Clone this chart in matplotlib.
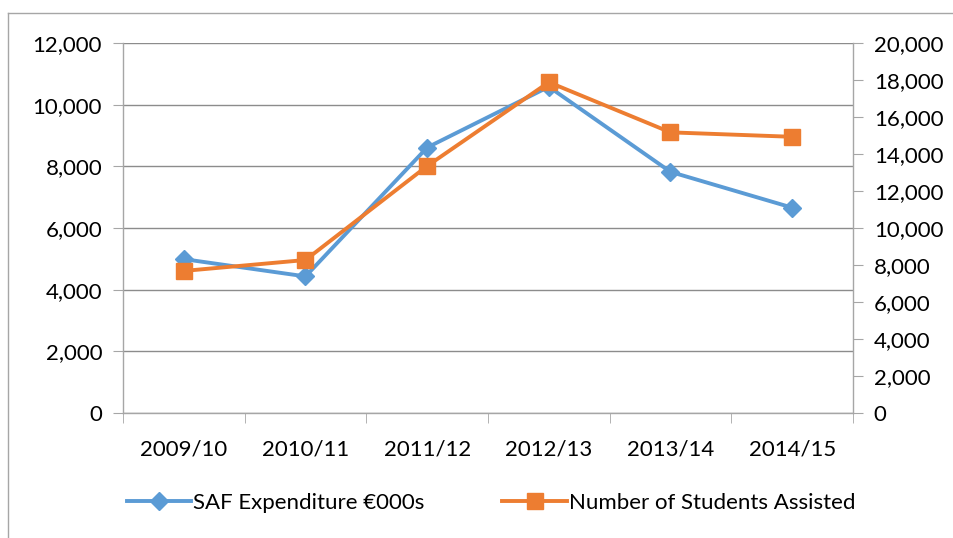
import matplotlib
matplotlib.use("Agg")
import matplotlib.pyplot as plt
from matplotlib.lines import Line2D
from matplotlib.ticker import FuncFormatter

# data
years = ["2009/10", "2010/11", "2011/12", "2012/13", "2013/14", "2014/15"]
saf_expenditure = [4990, 4430, 8610, 10580, 7820, 6660]        # €000s, left axis
students_assisted = [7680, 8270, 13350, 17880, 15170, 14930]   # right axis

left_ticks = [0, 2000, 4000, 6000, 8000, 10000, 12000]
right_ticks = [0, 2000, 4000, 6000, 8000, 10000, 12000, 14000, 16000, 18000, 20000]

BLUE = "#5B9BD5"
ORANGE = "#ED7D31"
GRID = "#8c8c8c"
AXIS = "#a6a6a6"
FS = 16

plt.rcParams["font.family"] = ["Lato", "DejaVu Sans"]

fig = plt.figure(figsize=(9.54, 5.38), dpi=100)
ax = fig.add_axes((123 / 954, 1 - 413 / 538, 730 / 954, 370 / 538))
ax2 = ax.twinx()

x = list(range(len(years)))
ax.plot(x, saf_expenditure, color=BLUE, lw=2.8, marker="D", ms=9,
        zorder=3, label="SAF Expenditure €000s")
ax2.plot(x, students_assisted, color=ORANGE, lw=2.8, marker="s", ms=11,
         zorder=3, label="Number of Students Assisted")

ax.set_xlim(-0.5, len(years) - 0.5)
ax.set_ylim(0, 12000)
ax2.set_ylim(0, 20000)
ax.set_yticks(left_ticks)
ax2.set_yticks(right_ticks)
fmt = FuncFormatter(lambda v, _: f"{int(v):,}")
ax.yaxis.set_major_formatter(fmt)
ax2.yaxis.set_major_formatter(fmt)

ax.set_xticks(x)
ax.set_xticklabels(years)
ax.set_xticks([i - 0.5 for i in range(len(years) + 1)], minor=True)
ax.tick_params(axis="x", which="major", length=0, pad=19, labelsize=FS)
ax.tick_params(axis="x", which="minor", length=7, color=AXIS, direction="out")
ax.tick_params(axis="y", length=7, color=AXIS, pad=8, labelsize=FS)
ax2.tick_params(axis="y", length=7, color=AXIS, pad=8, labelsize=FS)

ax.grid(axis="y", color=GRID, lw=1)
ax.set_axisbelow(True)
for a in (ax, ax2):
    a.spines["top"].set_visible(False)
    for s in ("left", "right", "bottom"):
        a.spines[s].set_color(AXIS)
        a.spines[s].set_linewidth(1)
ax.spines["right"].set_visible(False)
ax2.spines["left"].set_visible(False)
ax2.spines["bottom"].set_visible(False)

handles = [
    Line2D([], [], color=BLUE, lw=2.8, marker="D", ms=9),
    Line2D([], [], color=ORANGE, lw=2.8, marker="s", ms=11),
]
fig.legend(handles, ["SAF Expenditure €000s", "Number of Students Assisted"],
           loc="center", bbox_to_anchor=(491 / 954, 1 - 503 / 538), ncol=2,
           frameon=False, fontsize=FS, handlelength=2.9, handletextpad=0.1,
           columnspacing=3.5)

# outer chart frame (left and top edges visible)
fig.add_artist(Line2D([8 / 954, 8 / 954], [0, 1 - 13 / 538], color=AXIS, lw=1))
fig.add_artist(Line2D([8 / 954, 1], [1 - 13 / 538, 1 - 13 / 538], color=AXIS, lw=1))

fig.savefig("out.png", dpi=100)
